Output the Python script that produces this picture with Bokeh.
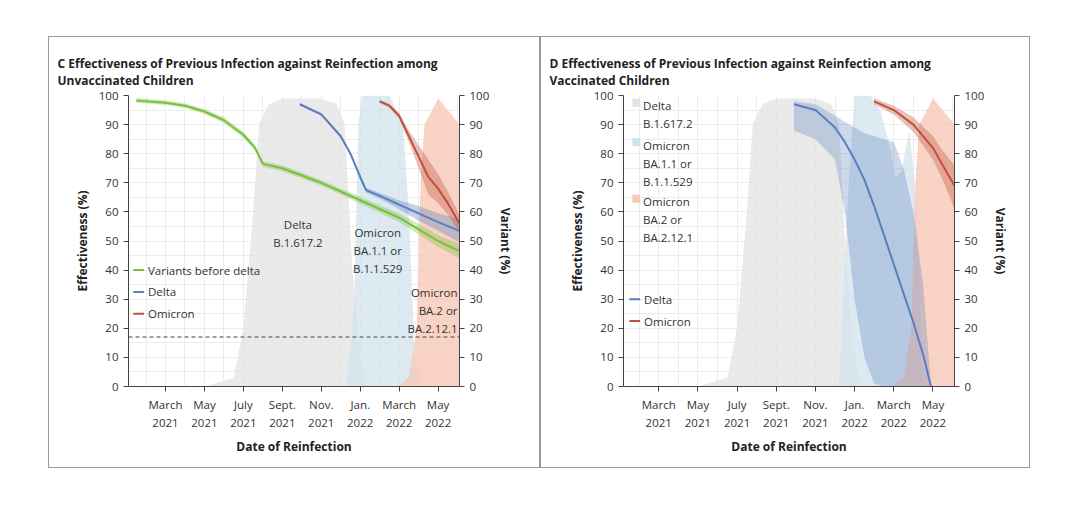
from bokeh.plotting import figure
from bokeh.models import Range1d, LinearAxis, FixedTicker, Span
from bokeh.layouts import row, column, Spacer
from bokeh.embed import file_html
from bokeh.resources import INLINE
from bokeh.core.properties import value

FONT = "Open Sans"
# x = months since 1 Jan 2021
tick_pos = [2, 4, 6, 8, 10, 12, 14, 16]
tick_lab = ["March\n2021", "May\n2021", "July\n2021", "Sept.\n2021", "Nov.\n2021", "Jan.\n2022", "March\n2022", "May\n2022"]

# variant shares (%)
delta_x = [4.0, 4.5, 5.5, 6.0, 6.5, 6.8, 7.3, 8.0, 9.0, 10.0, 10.8, 11.2, 11.6, 12.0, 12.3]
delta_y = [0, 1, 3, 20, 60, 90, 97, 99, 99, 99, 97, 90, 40, 10, 0]
ba1_x = [11.3, 11.7, 11.9, 12.1, 13.5, 14.2, 14.5, 14.8, 15.2]
ba1_y = [0, 30, 90, 100, 100, 90, 60, 10, 0]
ba2_x = [13.9, 14.5, 14.9, 15.1, 15.3, 16.0, 16.5, 17.1]
ba2_y = [0, 3, 20, 70, 90, 99, 95, 90]
ba1d_x = [11.2, 11.7, 12.0, 12.8, 13.3, 13.7, 14.1, 14.4, 14.8, 15.2, 15.5]
ba1d_y = [0, 70, 100, 100, 95, 85, 72, 74, 88, 60, 0]

# panel C effectiveness
c_green_x = [0.5, 2, 3, 4, 5, 6, 6.6, 7.0, 8, 9, 10, 11, 12, 13, 14, 15, 16, 17.1]
c_green_y = [98.3, 97.5, 96.5, 94.5, 91.5, 86.5, 82, 76.5, 75, 72.5, 70, 67, 64, 61, 58, 54, 50, 46.5]
c_green_w = [0.8, 0.8, 0.8, 0.9, 1, 1, 1, 1, 1, 1, 1, 1, 1.2, 1.3, 1.5, 1.8, 2, 2.5]
c_blue_x = [8.9, 10, 11, 11.5, 12, 12.3, 13, 14, 15, 16, 17.1]
c_blue_y = [97, 93.5, 86, 80, 72, 67.5, 65.5, 62.5, 59.5, 56.5, 53.5]
c_blue_w = [0.5, 0.5, 0.6, 0.6, 0.7, 0.8, 1, 1.5, 2.5, 3, 4]
c_red_x = [13.0, 13.5, 14.0, 14.5, 15.0, 15.5, 16.0, 16.5, 17.1]
c_red_y = [98, 96.5, 93, 86, 79, 72, 68, 63, 56]
c_red_w = [0.6, 0.7, 1, 2, 4, 6, 5, 4, 3]

# panel D effectiveness
d_blue_x = [8.9, 10, 11, 11.5, 12, 12.5, 13, 13.5, 14, 14.5, 15, 15.5, 15.9]
d_blue_y = [97, 95, 89, 84, 78, 71, 62, 52, 42, 32, 22, 11, 0]
d_blue_hi = [98, 97, 93, 91, 89, 87, 86, 85, 84, 75, 60, 35, 0]
d_blue_lo = [88, 85, 78, 60, 30, 10, 1, 0, 0, 0, 0, 0, 0]
d_red_x = [13.0, 14, 15, 16, 16.5, 17.1]
d_red_y = [98, 95, 90, 82, 76, 69]
d_red_hi = [99, 96.5, 92.5, 86, 81, 76]
d_red_lo = [97, 93.5, 87.5, 78, 71, 61]

GREEN, BLUE, RED = "#7cbf3f", "#5a7fbe", "#c0503c"
GRAYF, BLUEF, REDF = "#e3e3e3", "#d3e3ee", "#f8c8b6"


def make(title, w, bl, br, xr):
    p = figure(width=w, height=432, output_backend="svg", toolbar_location=None,
               x_range=Range1d(*xr), y_range=Range1d(0, 100),
               min_border_left=bl, min_border_right=br, min_border_top=58, min_border_bottom=83)
    p.title.text = title
    p.title.text_font = FONT
    p.title.text_font_size = "12px"
    p.title.text_font_style = "bold"
    p.title.text_color = "#222"
    p.title.offset = -(bl - 8)
    p.title.standoff = 14
    p.extra_y_ranges = {"var": Range1d(0, 100)}
    ra = LinearAxis(y_range_name="var", axis_label="Variant (%)")
    p.add_layout(ra, "right")
    for ax in [p.yaxis[0], ra]:
        ax.ticker = FixedTicker(ticks=list(range(0, 101, 10)))
    for ax in p.axis:
        ax.major_label_text_font = FONT
        ax.major_label_text_font_size = "11.5px"
        ax.major_label_text_color = "#333"
        ax.axis_label_text_font = FONT
        ax.axis_label_text_font_size = "12px"
        ax.axis_label_text_font_style = "bold"
        ax.axis_label_text_color = "#222"
        ax.axis_line_color = "#444"
        ax.major_tick_line_color = "#444"
        ax.minor_tick_line_color = None
        ax.major_tick_out = 5
        ax.major_tick_in = 0
    p.yaxis[0].axis_label = "Effectiveness (%)"
    p.xaxis.axis_label = "Date of Reinfection"
    p.xaxis.ticker = FixedTicker(ticks=tick_pos)
    p.xaxis.major_label_overrides = dict(zip(tick_pos, tick_lab))
    p.xgrid.ticker = FixedTicker(ticks=list(range(0, 18)))
    p.ygrid.ticker = FixedTicker(ticks=list(range(0, 101, 5)))
    p.grid.grid_line_color = "#ececec"
    p.outline_line_color = None
    p.background_fill_color = "white"
    p.styles = {"border": "1.5px solid #9a9a9a"}
    return p


def band(p, xs, lo, hi, color, alpha):
    p.varea(x=xs, y1=lo, y2=hi, fill_color=color, fill_alpha=alpha)


# ---- Panel C
pc = make("C  Effectiveness of Previous Infection against Reinfection among\n    Unvaccinated Children", 492, 79, 82, (0.1, 17.1))
band(pc, delta_x, [0] * len(delta_x), delta_y, GRAYF, 0.75)
band(pc, ba1_x, [0] * len(ba1_x), ba1_y, BLUEF, 0.75)
band(pc, ba2_x, [0] * len(ba2_x), ba2_y, REDF, 0.8)
pc.add_layout(Span(location=17, dimension="width", line_dash="4 3", line_color="#444", line_width=1))
for xs, ys, ws, c in [(c_green_x, c_green_y, c_green_w, GREEN), (c_blue_x, c_blue_y, c_blue_w, BLUE), (c_red_x, c_red_y, c_red_w, RED)]:
    band(pc, xs, [y - w for y, w in zip(ys, ws)], [y + w for y, w in zip(ys, ws)], c, 0.35)
    pc.line(xs, ys, line_color=c, line_width=2)
tk = dict(text_font=value(FONT), text_font_size="11.5px", text_color="#333")
pc.text(x=[8.8], y=[47], text=["Delta\nB.1.617.2"], text_align="center", text_baseline="bottom", **tk)
pc.text(x=[12.9], y=[38], text=["Omicron\nBA.1.1 or\nB.1.1.529"], text_align="center", text_baseline="bottom", **tk)
pc.text(x=[17.0], y=[17.5], text=["Omicron\nBA.2 or\nBA.2.12.1"], text_align="right", text_baseline="bottom", **tk)
leg_y = [40, 32.5, 25]
for yy, c, lab in zip(leg_y, [GREEN, BLUE, RED], ["Variants before delta", "Delta", "Omicron"]):
    pc.line([0.35, 0.9], [yy, yy], line_color=c, line_width=2)
    pc.text(x=[1.1], y=[yy], text=[lab], text_baseline="middle", **tk)

# ---- Panel D
pd_ = make("D  Effectiveness of Previous Infection against Reinfection among\n    Vaccinated Children", 490, 82, 77, (0.2, 17.1))
band(pd_, delta_x, [0] * len(delta_x), delta_y, GRAYF, 0.75)
band(pd_, ba1d_x, [0] * len(ba1d_x), ba1d_y, BLUEF, 0.75)
band(pd_, ba2_x, [0] * len(ba2_x), ba2_y, REDF, 0.8)
band(pd_, d_blue_x, d_blue_lo, d_blue_hi, BLUE, 0.3)
pd_.line(d_blue_x, d_blue_y, line_color=BLUE, line_width=2)
band(pd_, d_red_x, d_red_lo, d_red_hi, RED, 0.35)
pd_.line(d_red_x, d_red_y, line_color=RED, line_width=2)
for yy, c, lab in zip([97.5, 84, 64.5], [GRAYF, BLUEF, REDF], ["Delta\n B.1.617.2", "Omicron\nBA.1.1 or\nB.1.1.529", "Omicron\nBA.2 or\nBA.2.12.1"]):
    pd_.scatter(x=[0.85], y=[yy], marker="square", size=8, fill_color=c, line_color=None)
    pd_.text(x=[1.2], y=[yy + 1.5], text=[lab], text_baseline="top", **tk)
for yy, c, lab in zip([30, 22.5], [BLUE, RED], ["Delta", "Omicron"]):
    pd_.line([0.5, 1.05], [yy, yy], line_color=c, line_width=2)
    pd_.text(x=[1.25], y=[yy], text=[lab], text_baseline="middle", **tk)

layout = column(Spacer(height=36), row(Spacer(width=48), pc, pd_))
open("out.html", "w").write(file_html(layout, INLINE))
